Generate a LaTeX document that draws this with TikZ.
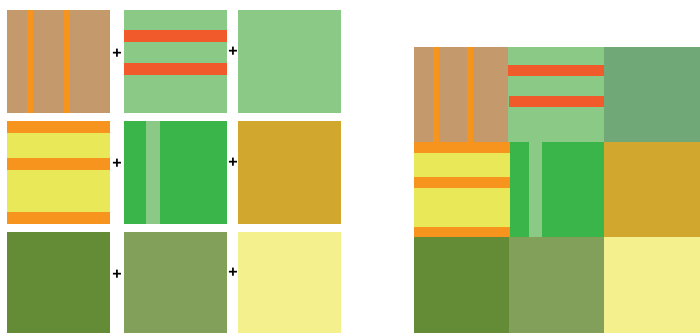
\documentclass[tikz,border=0pt]{standalone}
\usepackage{fontspec}
\newfontfamily\plusfont{Liberation Sans}
\definecolor{tan}{HTML}{C49A6C}
\definecolor{orng}{HTML}{F7941D}
\definecolor{lgreen}{HTML}{8BCA86}
\definecolor{redor}{HTML}{F15A2B}
\definecolor{yel}{HTML}{E8E858}
\definecolor{grn}{HTML}{3AB54A}
\definecolor{gold}{HTML}{D2A72E}
\definecolor{olive}{HTML}{648B35}
\definecolor{lolive}{HTML}{82A05A}
\definecolor{pyel}{HTML}{F5F08E}
\definecolor{dgreen}{HTML}{70A877}
\tikzset{plus/.style={font=\plusfont\bfseries\fontsize{16}{16}\selectfont, text=black, inner sep=0pt}}
\begin{document}
\begin{tikzpicture}[x=1pt,y=-1pt]
\useasboundingbox (0,0) rectangle (700,333);
% ---- left grid ----
% row 1
\fill[tan] (7,10) rectangle (110,113);
\fill[orng] (27,10) rectangle (33,113);
\fill[orng] (64,10) rectangle (70,113);
\fill[lgreen] (124,10) rectangle (227,113);
\fill[redor] (124,30) rectangle (227,42);
\fill[redor] (124,63) rectangle (227,75);
\fill[lgreen] (238,10) rectangle (341,113);
% row 2
\fill[yel] (7,121) rectangle (110,224);
\fill[orng] (7,121) rectangle (110,133);
\fill[orng] (7,158) rectangle (110,170);
\fill[orng] (7,212) rectangle (110,224);
\fill[grn] (124,121) rectangle (227,224);
\fill[lgreen] (146,121) rectangle (160,224);
\fill[gold] (238,121) rectangle (341,224);
% row 3
\fill[olive] (7,232) rectangle (110,333);
\fill[lolive] (124,232) rectangle (227,333);
\fill[pyel] (238,232) rectangle (341,333);
% plus signs
\node[plus] (p1) at (117,54) {+};
\node[plus] (p2) at (233,52) {+};
\node[plus] (p3) at (117,164) {+};
\node[plus] (p4) at (233,163) {+};
\node[plus] (p5) at (117,275) {+};
\node[plus] (p6) at (233,273) {+};
% ---- right grid ----
\fill[tan] (414,47) rectangle (508,142);
\fill[orng] (433,47) rectangle (439,142);
\fill[orng] (467,47) rectangle (473,142);
\fill[lgreen] (508,47) rectangle (604,142);
\fill[redor] (508,65) rectangle (604,76);
\fill[redor] (509,96) rectangle (604,107);
\fill[dgreen] (604,47) rectangle (700,142);
\fill[yel] (414,142) rectangle (510,237);
\fill[orng] (414,142) rectangle (510,153);
\fill[orng] (414,177) rectangle (510,188);
\fill[orng] (414,227) rectangle (510,237);
\fill[grn] (510,142) rectangle (604,237);
\fill[lgreen] (529,142) rectangle (542,237);
\fill[gold] (604,142) rectangle (700,237);
\fill[olive] (414,237) rectangle (509,333);
\fill[lolive] (509,237) rectangle (604,333);
\fill[pyel] (604,237) rectangle (700,333);
\end{tikzpicture}
\end{document}
